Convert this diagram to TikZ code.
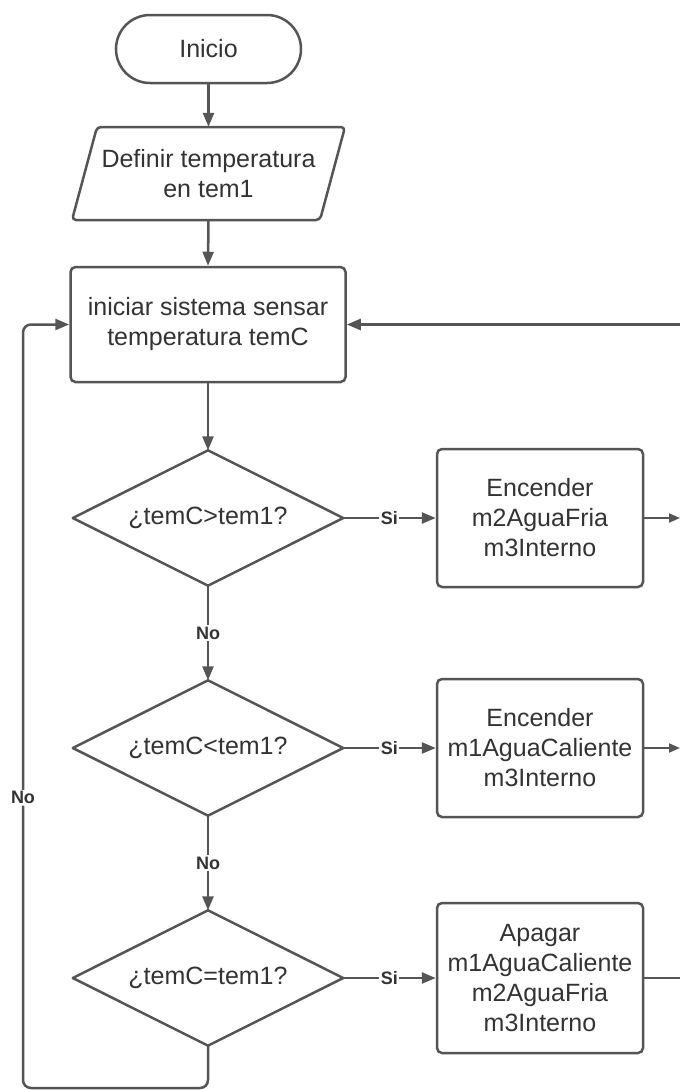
\documentclass[tikz,border=0pt]{standalone}
\usepackage{fontspec}
\setmainfont{Liberation Sans}
\usetikzlibrary{arrows.meta}
\definecolor{ln}{HTML}{555555}
\definecolor{tx}{HTML}{333333}
\begin{document}
\begin{tikzpicture}[x=1pt,y=-1pt,
  box/.style={draw=ln, line width=2.5pt, rounded corners=5pt, text=tx,
    font=\fontsize{25}{30}\selectfont, align=center, inner sep=0pt},
  plain/.style={text=tx, font=\fontsize{25}{30}\selectfont, align=center, inner sep=0pt},
  outline/.style={draw=ln, line width=2.5pt, line join=round},
  conn/.style={draw=ln, line width=2.5pt, -{Triangle[length=14pt,width=11pt]}},
  connsm/.style={draw=ln, line width=2pt, -{Triangle[length=11pt,width=9pt]}},
  lbl/.style={fill=white, text=tx, font=\bfseries\fontsize{18}{20}\selectfont, inner sep=1.5pt}]

\useasboundingbox (0,0) rectangle (680,1090);
\fill[white] (0,0) rectangle (680,1090);

% nodes
\node[box, rounded corners=34pt, minimum width=185pt, minimum height=68pt] (start) at (208.5,49) {Inicio};
\node[plain, minimum width=250pt, minimum height=93pt] (def) at (208.5,173.5) {Definir temperatura\\en tem1};
\draw[outline, rounded corners=4pt] (72,220) -- (97,127) -- (345,127) -- (320,220) -- cycle;
\node[box, minimum width=275pt, minimum height=115pt] (proc) at (208,324.5) {iniciar sistema sensar\\temperatura temC};

\node[plain, minimum width=270pt, minimum height=135pt] (d1) at (208,518) {¿temC>tem1?};
\draw[outline] (d1.north) -- (d1.east) -- (d1.south) -- (d1.west) -- cycle;
\node[plain, minimum width=270pt, minimum height=135pt] (d2) at (208,748) {¿temC<tem1?};
\draw[outline] (d2.north) -- (d2.east) -- (d2.south) -- (d2.west) -- cycle;
\node[plain, minimum width=270pt, minimum height=135pt] (d3) at (208,978) {¿temC=tem1?};
\draw[outline] (d3.north) -- (d3.east) -- (d3.south) -- (d3.west) -- cycle;

\node[box, minimum width=206pt, minimum height=138pt] (b1) at (540,518) {Encender\\m2AguaFria\\m3Interno};
\node[box, minimum width=206pt, minimum height=138pt] (b2) at (540,748) {Encender\\m1AguaCaliente\\m3Interno};
\node[box, minimum width=206pt, minimum height=150pt] (b3) at (540,978) {Apagar\\m1AguaCaliente\\m2AguaFria\\m3Interno};

% free ends
\coordinate (rt) at (680,324.5);
\coordinate (r1) at (680,518);
\coordinate (r2) at (680,748);
\coordinate (r3) at (680,978);
\coordinate (lb) at (23,1088);

% connectors
\draw[conn] (start.south) -- (def.north);
\draw[conn] (def.south) -- (proc.north);
\draw[conn] (proc.south) -- (d1.north);
\draw[conn] (d1.east) -- node[lbl]{Si} (b1.west);
\draw[conn] (d1.south) -- node[lbl]{No} (d2.north);
\draw[conn] (d2.east) -- node[lbl]{Si} (b2.west);
\draw[conn] (d2.south) -- node[lbl]{No} (d3.north);
\draw[conn] (d3.east) -- node[lbl]{Si} (b3.west);
\draw[connsm] (b1.east) -- (r1);
\draw[connsm] (b2.east) -- (r2);
\draw[draw=ln, line width=2pt] (b3.east) -- (r3);
\draw[conn] (rt) -- (proc.east);
\draw[conn, rounded corners=8pt] (d3.south) -- (d3.south |- lb) -- (lb) -- node[lbl, pos=0.38]{No} (lb |- proc.west) -- (proc.west);
\end{tikzpicture}
\end{document}
